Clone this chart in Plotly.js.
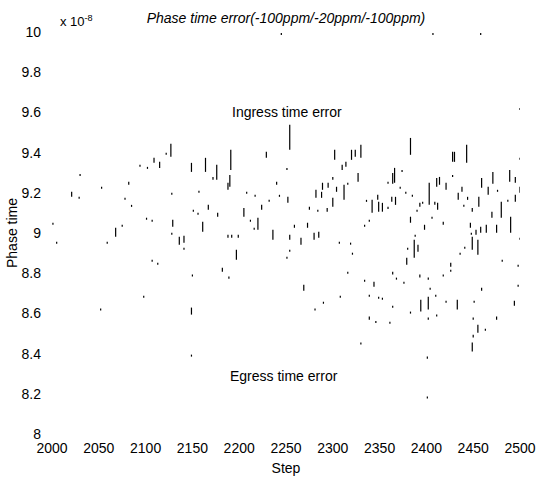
<!DOCTYPE html>
<html>
<head>
<meta charset="utf-8">
<script src="https://cdn.plot.ly/plotly-3.0.1.min.js"></script>
<style>html,body{margin:0;padding:0;background:#fff;}#chart{width:538px;height:481px;}</style>
</head>
<body>
<div id="chart"></div>
<script>
// Step index of each phase-time-error mark
const steps = [
  2001,2005,2021,2029,2030,2052,2053,2059,2068,2075,
  2078,2082,2085,2094,2098,2101,2102,2107,2107,2109,
  2113,2115,2122,2127,2128,2128,2129,2136,2141,2141,
  2149,2149,2150,2149,2151,2156,2157,2161,2164,2167,
  2172,2176,2177,2182,2188,2188,2189,2191,2190,2192,
  2197,2199,2205,2208,2212,2216,2217,2220,2224,2229,
  2232,2236,2240,2243,2245,2251,2251,2252,2254,2254,
  2254,2259,2266,2269,2273,2275,2280,2281,2282,2284,
  2285,2288,2289,2290,2294,2295,2300,2300,2302,2304,
  2307,2308,2310,2312,2314,2316,2316,2319,2320,2321,
  2324,2327,2330,2330,2334,2334,2336,2339,2339,2339,
  2342,2344,2346,2348,2349,2349,2353,2353,2359,2359,
  2361,2363,2364,2364,2364,2366,2367,2368,2372,2374,
  2376,2378,2379,2380,2383,2383,2383,2385,2387,2388,
  2390,2391,2393,2393,2394,2396,2398,2401,2401,2402,
  2402,2402,2403,2404,2406,2407,2409,2410,2411,2411,
  2412,2414,2418,2418,2421,2421,2426,2426,2428,2428,
  2430,2433,2434,2436,2438,2440,2441,2443,2444,2447,
  2448,2449,2449,2449,2450,2450,2451,2453,2455,2455,
  2456,2458,2458,2459,2459,2463,2464,2466,2470,2471,
  2475,2475,2476,2480,2481,2487,2489,2490,2494,2495,
  2495,2498,2498,2500,2500,2500,2500
];
// Upper end of each mark (phase time, x 1e-8)
const errHigh = [
  9.051,8.957,9.205,9.180,9.294,8.624,9.230,8.957,9.026,9.041,
  9.175,9.255,9.140,9.339,8.688,9.076,9.329,9.066,8.867,9.374,
  8.852,9.354,9.399,9.444,9.200,9.001,9.066,8.981,8.986,8.927,
  9.349,8.629,8.793,8.395,9.116,9.101,9.210,9.056,9.374,9.140,
  9.279,9.339,9.101,8.827,9.250,8.991,8.783,9.414,9.289,8.991,
  8.917,8.991,9.125,9.205,9.066,9.026,9.190,9.076,9.140,9.404,
  9.165,9.016,9.255,9.190,9.995,9.324,8.882,9.180,9.538,8.991,
  8.917,9.041,8.976,8.743,9.051,9.130,9.001,8.624,9.215,9.116,
  9.006,9.205,9.250,8.658,9.125,9.250,9.279,9.175,9.414,9.230,
  8.957,8.688,9.339,9.240,9.354,9.250,8.807,8.952,9.414,8.902,
  9.414,9.299,9.439,8.455,9.041,8.768,9.165,9.066,8.584,8.693,
  9.165,8.758,8.562,9.190,9.155,8.683,9.150,8.678,9.255,9.130,
  8.559,9.180,9.299,8.807,8.638,9.324,9.180,8.778,9.230,9.314,
  8.758,9.205,8.877,8.927,9.473,9.081,8.609,9.190,8.966,8.991,
  9.116,8.942,9.150,8.793,8.668,9.155,9.041,8.385,8.186,8.683,
  8.778,8.579,9.250,8.728,9.081,9.995,9.155,8.693,9.274,8.594,
  9.150,9.279,9.056,8.793,9.250,8.663,8.852,8.817,9.404,9.289,
  9.404,8.668,9.200,8.902,9.230,9.140,8.932,9.439,9.180,9.051,
  9.001,9.125,8.981,8.455,8.579,8.494,8.663,9.016,8.966,8.544,
  9.180,9.031,9.995,9.274,8.728,8.524,9.041,9.230,9.106,9.304,
  9.041,8.584,9.215,9.155,8.867,9.165,9.314,9.081,8.663,9.279,
  9.190,8.842,8.743,9.230,9.374,8.976,9.622
];
// Lower end of each mark (phase time, x 1e-8)
const errLow = [
  9.041,8.947,9.180,9.170,9.284,8.614,9.220,8.947,8.981,9.031,
  9.165,9.240,9.130,9.329,8.678,9.066,9.319,9.056,8.857,9.349,
  8.842,9.324,9.389,9.379,9.190,8.991,9.031,8.942,8.952,8.917,
  9.304,8.594,8.783,8.385,9.106,9.091,9.200,9.006,9.304,9.116,
  9.265,9.265,9.081,8.807,9.215,8.976,8.773,9.314,9.230,8.976,
  8.867,8.976,9.081,9.195,9.056,9.016,9.180,9.016,9.116,9.374,
  9.155,8.966,9.240,9.180,9.985,9.314,8.872,9.150,9.414,8.966,
  8.907,9.026,8.942,8.713,9.026,9.116,8.966,8.614,9.175,9.106,
  8.976,9.175,9.215,8.648,9.106,9.225,9.265,9.130,9.364,9.205,
  8.947,8.678,9.314,9.165,9.329,9.240,8.797,8.942,9.364,8.892,
  9.379,9.255,9.374,8.445,9.031,8.758,9.155,9.056,8.569,8.683,
  9.101,8.733,8.552,9.165,9.106,8.673,9.106,8.668,9.245,9.120,
  8.549,9.155,9.245,8.793,8.628,9.250,9.140,8.768,9.220,9.304,
  8.748,9.195,8.842,8.917,9.389,9.051,8.599,9.180,8.877,8.981,
  9.106,8.907,9.130,8.778,8.609,9.145,9.016,8.375,8.176,8.619,
  8.768,8.569,9.140,8.718,9.071,9.985,9.140,8.683,9.230,8.584,
  9.116,9.240,9.041,8.783,9.215,8.653,8.832,8.807,9.354,9.279,
  9.354,8.619,9.165,8.892,9.205,9.130,8.922,9.349,9.165,9.026,
  8.991,9.106,8.917,8.410,8.569,8.480,8.653,8.991,8.892,8.504,
  9.130,9.001,9.985,9.225,8.713,8.514,9.001,9.190,9.076,9.245,
  9.001,8.569,9.205,9.076,8.857,9.155,9.255,9.001,8.638,9.250,
  9.155,8.832,8.733,9.200,9.364,8.966,9.612
];
const xTicks = [2000,2050,2100,2150,2200,2250,2300,2350,2400,2450,2500];
const yTicks = [8,8.2,8.4,8.6,8.8,9,9.2,9.4,9.6,9.8,10];
const yTickText = ['8','8.2','8.4','8.6','8.8','9','9.2','9.4','9.6','9.8','10'];

const xs = [], ys = [];
for (let i = 0; i < steps.length; i++) {
  xs.push(steps[i], steps[i], null);
  ys.push(errHigh[i], errLow[i], null);
}

const FONT = '"Liberation Sans", Arial, Helvetica, sans-serif';
const FS = 14;

const trace = {
  x: xs, y: ys, type: 'scatter', mode: 'lines',
  line: {color: '#000', width: 1.2},
  connectgaps: false, hoverinfo: 'skip', cliponaxis: false
};

const layout = {
  width: 538, height: 481,
  margin: {l: 52, r: 18, t: 32, b: 47},
  paper_bgcolor: '#fff', plot_bgcolor: '#fff',
  showlegend: false,
  font: {family: FONT, size: FS, color: '#000'},
  title: {
    text: '<i>Phase time error(-100ppm/-20ppm/-100ppm)</i>',
    font: {family: FONT, size: FS, color: '#000'},
    x: 0.5, xref: 'paper', y: 1 - 18/481, yref: 'container', yanchor: 'middle', xanchor: 'center'
  },
  xaxis: {
    range: [2000, 2500], tickvals: xTicks, ticktext: xTicks.map(String),
    showgrid: false, zeroline: false, showline: false, ticks: '',
    tickfont: {family: FONT, size: FS, color: '#000'},
    ticklabelstandoff: 4,
    title: {text: 'Step', font: {family: FONT, size: FS, color: '#000'}, standoff: 8},
    automargin: false
  },
  yaxis: {
    range: [8, 10], tickvals: yTicks, ticktext: yTickText,
    showgrid: false, zeroline: false, showline: false, ticks: '',
    tickfont: {family: FONT, size: FS, color: '#000'},
    ticklabelstandoff: 10,
    title: {text: 'Phase time', font: {family: FONT, size: FS, color: '#000'}, standoff: 0},
    automargin: false
  },
  annotations: [
    {text: 'x 10<sup>-8</sup>', xref: 'paper', yref: 'paper', x: 0.012, y: 1.028,
     xanchor: 'left', yanchor: 'middle', showarrow: false, font: {family: FONT, size: 13, color: '#000'}},
    {text: 'Ingress time error', xref: 'x', yref: 'y', x: 2251, y: 9.603,
     xanchor: 'center', yanchor: 'middle', showarrow: false, font: {family: FONT, size: FS, color: '#000'}},
    {text: 'Egress time error', xref: 'x', yref: 'y', x: 2248, y: 8.291,
     xanchor: 'center', yanchor: 'middle', showarrow: false, font: {family: FONT, size: FS, color: '#000'}}
  ]
};

Plotly.newPlot('chart', [trace], layout, {displayModeBar: false, staticPlot: true});
</script>
</body>
</html>
